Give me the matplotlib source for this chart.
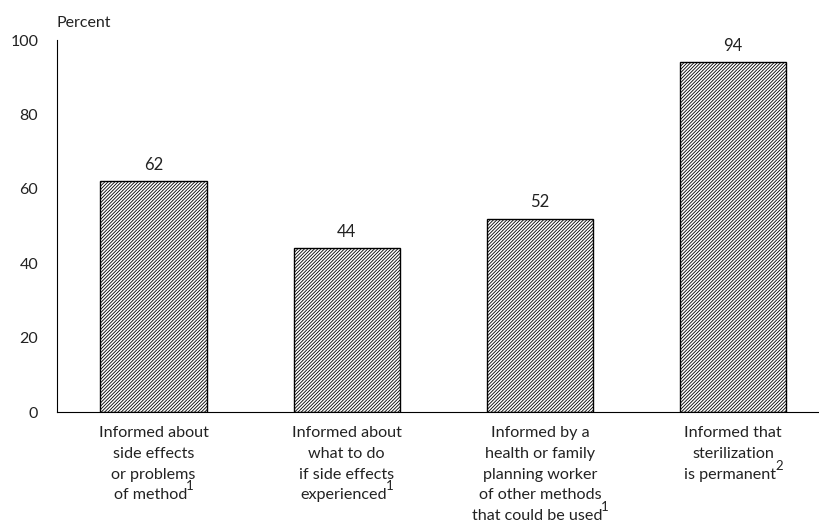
import matplotlib
matplotlib.use("Agg")
import matplotlib.pyplot as plt

# dados
categorias = [
    "Informed about\nside effects\nor problems\nof method",
    "Informed about\nwhat to do\nif side effects\nexperienced",
    "Informed by a\nhealth or family\nplanning worker\nof other methods\nthat could be used",
    "Informed that\nsterilization\nis permanent",
]
notas = ["1", "1", "1", "2"]
valores = [62, 44, 52, 94]
yticks = [0, 20, 40, 60, 80, 100]

plt.rcParams['font.family'] = ['Lato', 'DejaVu Sans']
plt.rcParams['hatch.linewidth'] = 0.6
plt.rcParams['text.color'] = '#222222'

fig = plt.figure(figsize=(8.2, 5.25), dpi=100)
ax = fig.add_axes([57 / 820, 113 / 525, 763 / 820, 372 / 525])

x = list(range(len(valores)))
barras = ax.bar(x, valores, width=0.55, color='white', edgecolor='black',
                linewidth=1.0, hatch='//////////')
ax.bar_label(barras, labels=[str(v) for v in valores], padding=6, fontsize=12)

ax.set_xlim(-0.5, 3.45)
ax.set_ylim(0, 100)
ax.set_yticks(yticks)
ax.set_xticks(x)
ax.set_xticklabels([""] * len(x))

ax.spines['top'].set_visible(False)
ax.spines['right'].set_visible(False)
ax.tick_params(axis='both', length=0, colors='#222222')
ax.tick_params(axis='y', pad=13.5, labelsize=11.5)

fig.text(57 / 820, 1 - 23 / 525, "Percent", fontsize=11.5, va='center', ha='left')

# rotulos das categorias linha a linha (distancias em px, 1 px = 0.72 pt)
px = 0.72
base0, passo = 25, 20.8
ultimas = []
for xi, cat in zip(x, categorias):
    linhas = cat.split('\n')
    for j, linha in enumerate(linhas):
        ult = j == len(linhas) - 1
        dy = -(base0 + passo * j)
        t = ax.annotate(linha, xy=(xi, 0), xycoords=('data', 'axes fraction'),
                        xytext=(-3 * px if ult else 0, dy * px),
                        textcoords='offset points', ha='center', va='baseline',
                        fontsize=11.6)
        if ult:
            ultimas.append((t, dy))

# notas sobrescritas depois da ultima linha
fig.canvas.draw()
r = fig.canvas.get_renderer()
for (t, dy), nota in zip(ultimas, notas):
    bb = t.get_window_extent(r)
    xs = ax.transData.inverted().transform((bb.x1 - 1, 0))[0]
    ax.annotate(nota, xy=(xs, 0), xycoords=('data', 'axes fraction'),
                xytext=(0, (dy + 9) * px), textcoords='offset points',
                ha='left', va='baseline', fontsize=9.5)

fig.savefig("out.png", dpi=100)
